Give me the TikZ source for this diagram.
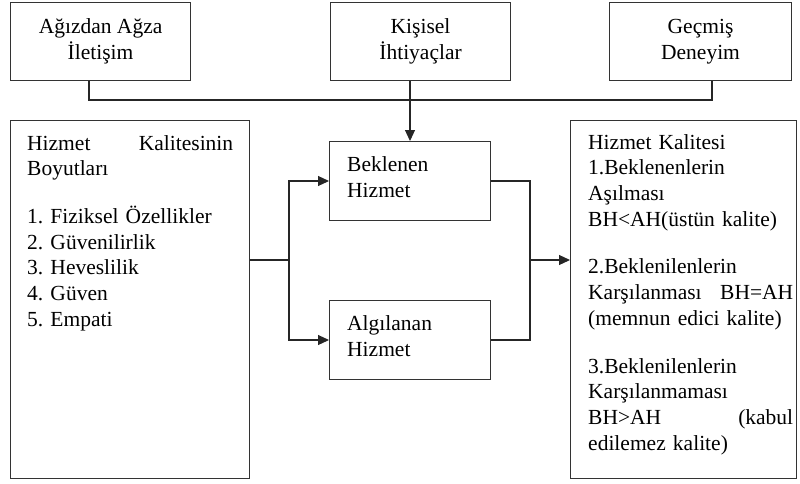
\documentclass[tikz,border=0pt]{standalone}
\usepackage{fontspec}
\setmainfont{Liberation Serif}
\usetikzlibrary{arrows.meta}
\frenchspacing
\begin{document}
\begin{tikzpicture}[x=1pt,y=-1pt,
  box/.style={draw=black!80, line width=1.1pt, anchor=north west, inner sep=0pt},
  txt/.style={font=\fontsize{21.5}{25.7}\selectfont, inner sep=0pt},
  conn/.style={line width=1.1pt, draw=black!85},
  arr/.style={conn, -{Triangle[length=11pt,width=10pt]}}]
\useasboundingbox (0,0) rectangle (800,483);
% top boxes
\node[box, minimum width=180pt, minimum height=78pt] (agiz) at (10,2) {};
\node[box, minimum width=180pt, minimum height=78pt] (kis) at (330,2) {};
\node[box, minimum width=182pt, minimum height=78pt] (gec) at (609,2) {};
\node[txt, align=center] at (agiz.center) {Ağızdan Ağza\\İletişim};
\node[txt, align=center] at (kis.center) {Kişisel\\İhtiyaçlar};
\node[txt, align=center] at (gec.center) {Geçmiş\\Deneyim};
% left and right big boxes
\node[box, minimum width=239pt, minimum height=358pt] (boy) at (10,120) {};
\node[box, minimum width=226pt, minimum height=358pt] (kal) at (570,120) {};
% middle boxes
\node[box, minimum width=161pt, minimum height=79pt] (bek) at (329,141) {};
\node[box, minimum width=161pt, minimum height=79pt] (alg) at (329,300) {};
\node[txt, align=left, anchor=west] at ([xshift=18pt,yshift=4pt]bek.west) {Beklenen\\Hizmet};
\node[txt, align=left, anchor=west] at ([xshift=18pt,yshift=4pt]alg.west) {Algılanan\\Hizmet};
% left box text
\node[txt, anchor=north west, text width=206pt, align=left] at (27,135)
{Hizmet \hfill Kalitesinin\\Boyutları\\[22pt]
1. Fiziksel Özellikler\\2. Güvenilirlik\\3. Heveslilik\\4. Güven\\5. Empati};
% right box text
\node[txt, anchor=north west, text width=205pt, align=left] at (588,134)
{Hizmet Kalitesi\\1.Beklenenlerin\\Aşılması\\BH<AH(üstün kalite)\\[22pt]
2.Beklenilenlerin\\Karşılanması \hfill BH=AH\\(memnun edici kalite)\\[22pt]
3.Beklenilenlerin\\Karşılanmaması\\BH>AH \hfill (kabul\\edilemez kalite)};
% connectors top
\coordinate (j1) at (89,100);
\coordinate (j3) at (712,100);
\draw[conn] (agiz.south -| j1) -- (j1) -- (j3) -- (gec.south -| j3);
\draw[arr] (kis.south -| 410,0) -- (bek.north -| 410,0);
% left split
\coordinate (sl) at (289,260);
\draw[conn] (boy.east |- sl) -- (sl);
\draw[arr] (sl) |- (bek.west |- 0,181);
\draw[arr] (sl) |- (alg.west |- 0,340);
% right merge
\coordinate (sr) at (530,260);
\draw[conn] (bek.east |- 0,181) -| (sr);
\draw[conn] (alg.east |- 0,340) -| (sr);
\draw[arr] (sr) -- (kal.west |- sr);
\end{tikzpicture}
\end{document}
